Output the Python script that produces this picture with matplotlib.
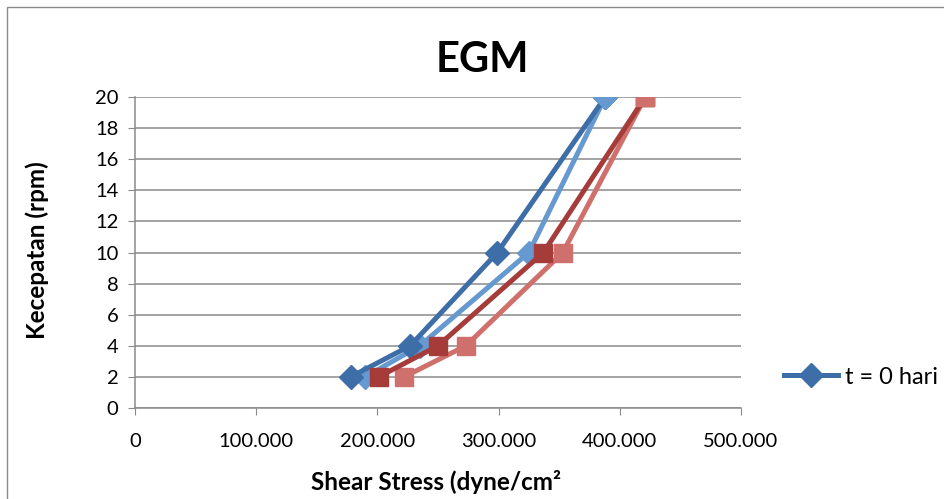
"""
EGM - rheogram (kecepatan vs shear stress)
"""

import matplotlib
matplotlib.use("Agg")
import matplotlib.pyplot as plt
from matplotlib.patches import Rectangle
from matplotlib.ticker import FuncFormatter, MultipleLocator

# Data
rpm = [2, 4, 10, 20]
blue_dark_x = [178, 227, 299, 388]
blue_light_x = [190, 235, 325, 388]
red_dark_x = [201, 250, 337, 421]
red_light_x = [222, 273, 353, 421]

title = "EGM"
x_label = "Shear Stress (dyne/cm\u00b2"
y_label = "Kecepatan (rpm)"
legend_label = "t = 0 hari"

BLUE_DARK = "#3d6ea8"
BLUE_LIGHT = "#6699d0"
RED_DARK = "#a63c3a"
RED_LIGHT = "#d0706c"
GRID = "#8a8a8a"


def x_fmt(v, pos):
    """Format like 100.000"""
    if v == 0:
        return "0"
    return f"{v:.3f}"


def plot_data():
    plt.rcParams["font.family"] = ["Lato", "DejaVu Sans"]
    fig = plt.figure(figsize=(9.44, 4.99), dpi=100)
    ax = fig.add_axes([135 / 944, 1 - 408 / 499, (741 - 135) / 944, (408 - 97) / 499])

    # Series (light drawn first so dark lines sit over, end markers light on top)
    ax.plot(blue_light_x, rpm, color=BLUE_LIGHT, lw=3.6, marker="D", ms=12,
            mec=BLUE_LIGHT, zorder=3)
    ax.plot(blue_dark_x, rpm, color=BLUE_DARK, lw=3.6, marker="D", ms=12,
            mec=BLUE_DARK, zorder=4, label=legend_label)
    ax.plot(red_dark_x, rpm, color=RED_DARK, lw=3.6, marker="s", ms=13.5,
            mec=RED_DARK, zorder=5)
    ax.plot(red_light_x, rpm, color=RED_LIGHT, lw=3.6, marker="s", ms=13.5,
            mec=RED_LIGHT, zorder=4.5)
    # top points: light markers on top
    ax.plot([blue_light_x[-1]], [rpm[-1]], ls="none", marker="D", ms=12,
            color=BLUE_LIGHT, zorder=6)
    ax.plot([red_light_x[-1]], [rpm[-1]], ls="none", marker="s", ms=13.5,
            color=RED_LIGHT, zorder=6)

    # Axes
    ax.set_xlim(0, 500)
    ax.set_ylim(0, 20)
    ax.xaxis.set_major_locator(MultipleLocator(100))
    ax.yaxis.set_major_locator(MultipleLocator(2))
    ax.xaxis.set_major_formatter(FuncFormatter(x_fmt))
    ax.yaxis.grid(True, color=GRID, lw=1.1)
    ax.set_axisbelow(True)
    for side in ["top", "right"]:
        ax.spines[side].set_visible(False)
    for side in ["left", "bottom"]:
        ax.spines[side].set_color(GRID)
        ax.spines[side].set_linewidth(1.1)
    ax.tick_params(axis="x", length=5, color=GRID, pad=13, labelsize=14.5)
    ax.tick_params(axis="y", length=5, color=GRID, pad=7, labelsize=14.5)
    ax.set_facecolor("none")

    # Titles
    fig.text(482 / 944, 1 - 60 / 499, title, fontsize=30, fontweight="bold",
             ha="center", va="center")
    fig.text(436 / 944, 1 - 482 / 499, x_label, fontsize=17.5, fontweight="bold",
             ha="center", va="center")
    fig.text(37 / 944, 1 - 250 / 499, y_label, fontsize=17.5, fontweight="bold",
             ha="center", va="center", rotation=90)

    # Legend
    ax.legend(loc="center left", bbox_to_anchor=(772 / 944, 1 - 377 / 499),
              bbox_transform=fig.transFigure, frameon=False, fontsize=17,
              handlelength=2.3, handletextpad=0.3, borderpad=0)

    # Outer chart border
    fig.patches.append(Rectangle((7 / 944, -0.02), 1.0, 1 - 7 / 499 + 0.02,
                                 transform=fig.transFigure, fill=False,
                                 edgecolor="#8a8a8a", lw=1))

    fig.savefig("out.png", dpi=100)


if __name__ == "__main__":
    plot_data()
